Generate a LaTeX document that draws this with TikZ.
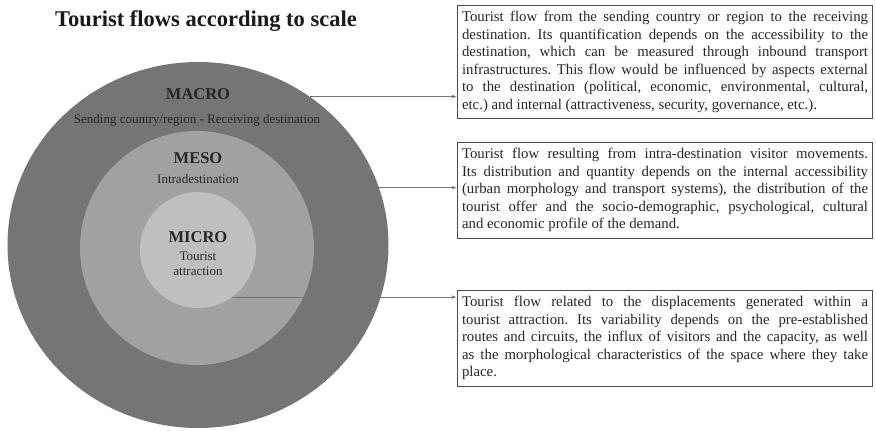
\documentclass[tikz,border=0pt]{standalone}
\usepackage{fontspec}
\setmainfont{Liberation Serif}
\usetikzlibrary{arrows.meta,shapes.geometric}
\frenchspacing
\tolerance=9999
\hyphenpenalty=10000

\tikzset{
  ring/.style={draw=none, inner sep=0pt},
  lvl/.style={font=\fontsize{16.5}{18}\selectfont\bfseries, text=black!85},
  lvlsub/.style={font=\fontsize{13}{15.5}\selectfont, text=black!85, align=center},
  descbox/.style={draw=black!70, line width=1.1pt, fill=white, text width=406pt,
    inner xsep=4.5pt, inner ysep=6pt, align=justify, anchor=north west,
    font=\fontsize{14.8}{17.5}\selectfont, text=black!85},
  flow/.style={draw=black!55, line width=0.9pt, -{Latex[length=5pt,width=3.5pt]}}
}

\begin{document}
\begin{tikzpicture}[x=1pt, y=-1pt]
  \useasboundingbox (0,0) rectangle (876,431);
  \node[font=\fontsize{22.5}{24}\selectfont\bfseries, text=black!90] (title) at (206,21) {Tourist flows according to scale};
  % scale rings
  \node[ring, ellipse, fill=black!54, minimum width=381pt, minimum height=366pt] (macro) at (198,245) {};
  \node[ring, circle, fill=black!37, minimum size=234pt] (meso) at (197,248) {};
  \node[ring, circle, fill=black!25, minimum size=116pt] (micro) at (198,250) {};
  \node[lvl] (macroT) at (198,94) {MACRO};
  \node[lvlsub] (macroS) at (197,120) {Sending country/region - Receiving destination};
  \node[lvl] (mesoT) at (198,158) {MESO};
  \node[lvlsub] (mesoS) at (198,179) {Intradestination};
  \node[lvl] (microT) at (198,237) {MICRO};
  \node[lvlsub] (microS) at (198,264) {Tourist\\attraction};
  % descriptions
  \node[descbox] (box1) at (457,5) {Tourist flow from the sending country or region to the receiving\linebreak
    destination. Its quantification depends on the accessibility to the\linebreak
    destination, which can be measured through inbound transport\linebreak
    infrastructures. This flow would be influenced by aspects external\linebreak
    to the destination (political, economic, environmental, cultural,\linebreak
    etc.) and internal (attractiveness, security, governance, etc.).};
  \node[descbox] (box2) at (457,142) {Tourist flow resulting from intra-destination visitor movements.\linebreak
    Its distribution and quantity depends on the internal accessibility\linebreak
    (urban morphology and transport systems), the distribution of the\linebreak
    tourist offer and the socio-demographic, psychological, cultural\linebreak
    and economic profile of the demand.};
  \node[descbox] (box3) at (457,290) {Tourist flow related to the displacements generated within a\linebreak
    tourist attraction. Its variability depends on the pre-established\linebreak
    routes and circuits, the influx of visitors and the capacity, as well\linebreak
    as the morphological characteristics of the space where they take\linebreak
    place.};
  % connectors
  \draw[flow] (macro.53) -- (macro.53 -| box1.west);
  \draw[flow] (meso.31) -- (meso.31 -| box2.west);
  \draw[flow] (micro.-54) -- (micro.-54 -| box3.west);
\end{tikzpicture}
\end{document}
